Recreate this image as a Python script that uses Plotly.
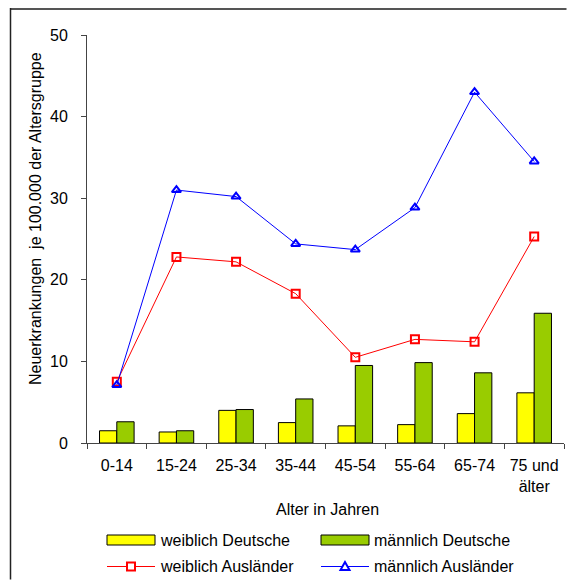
import plotly.graph_objects as go

categories = ["0-14", "15-24", "25-34", "35-44", "45-54", "55-64", "65-74", "75 und<br>älter"]
weiblich_deutsche = [1.5, 1.35, 4.0, 2.5, 2.1, 2.25, 3.6, 6.15]
maennlich_deutsche = [2.6, 1.5, 4.1, 5.4, 9.5, 9.85, 8.6, 15.9]
weiblich_auslaender = [7.5, 22.8, 22.2, 18.3, 10.5, 12.7, 12.4, 25.3]
maennlich_auslaender = [7.1, 31.0, 30.2, 24.4, 23.7, 28.85, 43.0, 34.5]
series_names = ["weiblich Deutsche", "männlich Deutsche", "weiblich Ausländer", "männlich Ausländer"]

FONT = "Liberation Sans, Arial, sans-serif"
W, H = 567, 580
ML, MR, MT, MB = 87, 3, 35, 137
PW, PH = W - ML - MR, H - MT - MB

YELLOW, GREEN, RED, BLUE = "#FFFF00", "#99CC00", "#FF0000", "#0000FF"


def px2x(px):
    return (px - ML) / PW


def px2y(py):
    return (H - MB - py) / PH


fig = go.Figure()
fig.add_trace(go.Bar(x=categories, y=weiblich_deutsche, name=series_names[0],
                     marker=dict(color=YELLOW, line=dict(color="#000000", width=1))))
fig.add_trace(go.Bar(x=categories, y=maennlich_deutsche, name=series_names[1],
                     marker=dict(color=GREEN, line=dict(color="#000000", width=1))))
fig.add_trace(go.Scatter(x=categories, y=weiblich_auslaender, name=series_names[2],
                         mode="lines+markers",
                         line=dict(color=RED, width=1),
                         marker=dict(symbol="square-open", size=8, color=RED,
                                     line=dict(color=RED, width=2))))
fig.add_trace(go.Scatter(x=categories, y=maennlich_auslaender, name=series_names[3],
                         mode="lines+markers",
                         line=dict(color=BLUE, width=1),
                         marker=dict(symbol="triangle-up-open", size=8, color=BLUE,
                                     line=dict(color=BLUE, width=2))))

shapes = [
    # outer frame: top and left edges only visible in the window
    dict(type="line", xref="paper", yref="paper",
         x0=px2x(10), x1=px2x(W - 0.5), y0=px2y(9), y1=px2y(9),
         line=dict(color="#555555", width=2)),
    dict(type="line", xref="paper", yref="paper",
         x0=px2x(10.5), x1=px2x(10.5), y0=px2y(8), y1=px2y(H - 0.5),
         line=dict(color="#222222", width=1.5)),
]
annotations = [
    dict(text="Alter in Jahren", xref="paper", yref="paper",
         x=px2x(327), y=px2y(509), xanchor="center", yanchor="middle",
         showarrow=False, font=dict(size=16)),
    dict(text="Neuerkrankungen  je 100.000 der Altersgruppe", xref="paper", yref="paper",
         x=px2x(36), y=px2y(219), xanchor="center", yanchor="middle", textangle=-90,
         showarrow=False, font=dict(size=16)),
]

# manual legend
legend_cols = [107, 321]
legend_rows = [540, 566.5]
sym_w = 48
fills = [YELLOW, GREEN]
for i in range(2):
    x0 = legend_cols[i]
    y = legend_rows[0]
    shapes.append(dict(type="rect", xref="paper", yref="paper",
                       x0=px2x(x0), x1=px2x(x0 + sym_w), y0=px2y(y + 5), y1=px2y(y - 5),
                       line=dict(color="#000000", width=1), fillcolor=fills[i]))
    annotations.append(dict(text=series_names[i], xref="paper", yref="paper",
                            x=px2x(x0 + sym_w + 3), y=px2y(y), xanchor="left", yanchor="middle",
                            showarrow=False, font=dict(size=16)))
line_cols = [RED, BLUE]
for i in range(2):
    x0 = legend_cols[i]
    y = legend_rows[1]
    c = line_cols[i]
    xc = x0 + sym_w / 2
    shapes.append(dict(type="line", xref="paper", yref="paper",
                       x0=px2x(x0), x1=px2x(x0 + sym_w), y0=px2y(y), y1=px2y(y),
                       line=dict(color=c, width=1)))
    if i == 0:
        shapes.append(dict(type="rect", xref="paper", yref="paper",
                           x0=px2x(xc - 4), x1=px2x(xc + 4), y0=px2y(y + 4), y1=px2y(y - 4),
                           line=dict(color=c, width=2), fillcolor="white"))
    else:
        path = "M {:.5f},{:.5f} L {:.5f},{:.5f} L {:.5f},{:.5f} Z".format(
            px2x(xc - 4.5), px2y(y + 3.5), px2x(xc + 4.5), px2y(y + 3.5), px2x(xc), px2y(y - 4.5))
        shapes.append(dict(type="path", xref="paper", yref="paper", path=path,
                           line=dict(color=c, width=2), fillcolor="white"))
    annotations.append(dict(text=series_names[2 + i], xref="paper", yref="paper",
                            x=px2x(x0 + sym_w + 3), y=px2y(y), xanchor="left", yanchor="middle",
                            showarrow=False, font=dict(size=16)))

fig.update_layout(
    width=W, height=H,
    margin=dict(l=ML, r=MR, t=MT, b=MB, autoexpand=False),
    paper_bgcolor="white", plot_bgcolor="white",
    font=dict(family=FONT, size=16, color="#000000"),
    barmode="group", bargap=0.42, bargroupgap=0,
    showlegend=False,
    xaxis=dict(
        type="category", tickson="boundaries", ticks="outside", ticklen=5,
        tickcolor="#444444", showline=True, linecolor="#444444", linewidth=1,
        showgrid=False, tickfont=dict(size=16), ticklabelstandoff=8,
    ),
    yaxis=dict(
        range=[0, 50], dtick=10, ticks="outside", ticklen=5,
        tickcolor="#444444", showline=True, linecolor="#444444", linewidth=1,
        showgrid=False, zeroline=False, tickfont=dict(size=16), ticklabelstandoff=10,
    ),
    shapes=shapes,
    annotations=annotations,
)

fig.write_html(
    "out.html",
    config={"displayModeBar": False},
    post_script="document.documentElement.style.overflow='hidden';document.body.style.margin='0';document.body.style.overflow='hidden';",
)
